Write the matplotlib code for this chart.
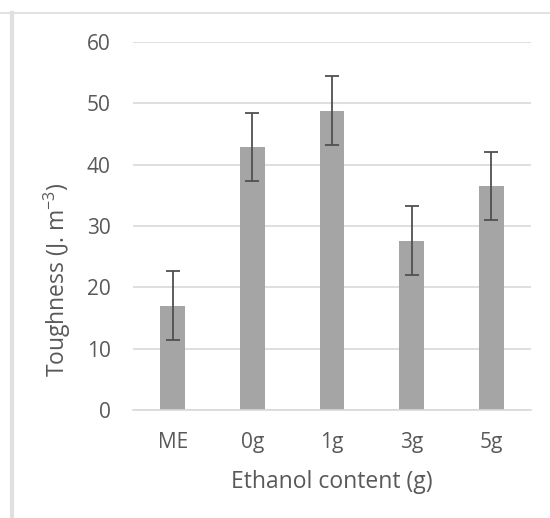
import matplotlib.pyplot as plt
from matplotlib.lines import Line2D

categories = ['ME', '0g', '1g', '3g', '5g']
toughness = [17.0, 42.9, 48.8, 27.6, 36.5]
errors = [5.6, 5.6, 5.6, 5.6, 5.6]

plt.rcParams['font.family'] = ['Open Sans', 'DejaVu Sans']
plt.rcParams['mathtext.fontset'] = 'custom'
plt.rcParams['mathtext.rm'] = 'Open Sans'
text_color = '#595959'

fig = plt.figure(figsize=(5.5, 5.18), dpi=100)
ax = fig.add_axes([0.2418, 0.2085, 0.7237, 0.7104])

x = range(len(categories))
ax.bar(x, toughness, width=0.31, color='#A5A5A5', zorder=2)
ax.errorbar(x, toughness, yerr=errors, fmt='none', ecolor='#505050',
            elinewidth=1.3, capsize=5, capthick=1.3, zorder=3)

ax.set_xlim(-0.5, 4.5)
ax.set_ylim(0, 60)
ax.set_yticks([0, 10, 20, 30, 40, 50, 60])
ax.set_xticks(list(x))
ax.set_xticklabels(categories)
ax.yaxis.grid(True, color='#D9D9D9', linewidth=1.2, zorder=0)
ax.set_axisbelow(True)
for s in ['top', 'right', 'left']:
    ax.spines[s].set_visible(False)
ax.spines['bottom'].set_color('#D9D9D9')
ax.spines['bottom'].set_linewidth(1.2)
ax.tick_params(axis='both', length=0, labelsize=15, colors=text_color)
ax.tick_params(axis='y', pad=16)
ax.tick_params(axis='x', pad=16)

ax.set_xlabel('Ethanol content (g)', fontsize=16.5, color=text_color, labelpad=12)
ax.set_ylabel('Toughness (J. m$^{\\mathregular{-3}}$)', fontsize=16.5,
              color=text_color, va='center')
# label sits lower than the axis centre in the original
ax.yaxis.set_label_coords(-0.19, 0.353)

# outer frame lines
fig.add_artist(Line2D([0, 1], [1 - 13 / 518, 1 - 13 / 518], transform=fig.transFigure,
                      color='#DDDDDD', linewidth=1.2))
fig.add_artist(Line2D([12 / 550, 12 / 550], [0, 1 - 13 / 518], transform=fig.transFigure,
                      color='#E0E0E0', linewidth=3))

fig.savefig('out.png', dpi=100)
